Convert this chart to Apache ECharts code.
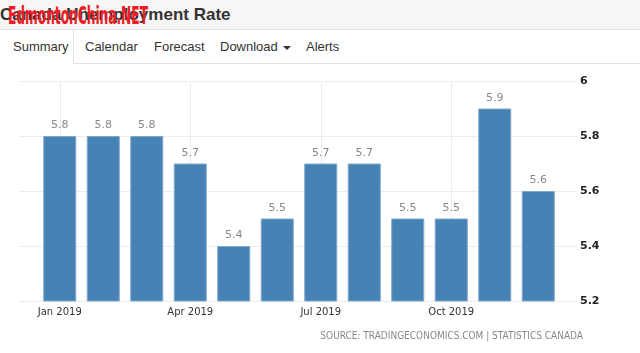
<!DOCTYPE html>
<html>
<head>
<meta charset="utf-8">
<script src="https://cdn.jsdelivr.net/npm/echarts@6/dist/echarts.min.js"></script>
<style>
  html, body { margin: 0; padding: 0; background: #fff; width: 640px; height: 353px; overflow: hidden; }
  .head { position: absolute; left: 0; top: 0; width: 640px; height: 29px; background: #f6f6f6; border-bottom: 1px solid #e2e2e2; }
  .title { position: absolute; left: 0; top: 5px; font: bold 17px "Liberation Sans", Arial, sans-serif; color: #333; white-space: nowrap; }
  .mark { position: absolute; left: 8px; top: 3px; font: bold 24px/26px "DejaVu Sans Condensed", sans-serif; color: #ee1c25; white-space: nowrap; transform: scaleX(0.565); transform-origin: 0 0; }
  .tabs { position: absolute; left: 0; top: 30px; width: 640px; height: 34px; background: #fff; }
  .tabline { position: absolute; left: 73px; top: 63px; width: 567px; height: 1px; background: #e2e2e2; }
  .active { position: absolute; left: 0; top: 30px; width: 73px; height: 34px; border-right: 1px solid #e2e2e2; background: #fff; }
  .tab { position: absolute; top: 39px; font: 13px "Liberation Sans", Arial, sans-serif; color: #333; white-space: nowrap; }
  .caret { display: inline-block; width: 0; height: 0; margin-left: 5px; vertical-align: middle; border-left: 4px solid transparent; border-right: 4px solid transparent; border-top: 4px solid #333; }
  #chart { position: absolute; left: 0; top: 64px; width: 640px; height: 289px; }
</style>
</head>
<body>
<div class="head"><div class="title">Canada Unemployment Rate</div><div class="mark">EdmontonChina.NET</div></div>
<div class="tabs"></div>
<div class="active"></div>
<div class="tabline"></div>
<div class="tab" style="left:13px">Summary</div>
<div class="tab" style="left:85px">Calendar</div>
<div class="tab" style="left:154px">Forecast</div>
<div class="tab" style="left:220px">Download<span class="caret"></span></div>
<div class="tab" style="left:306px">Alerts</div>
<div id="chart"></div>
<script>
var months = ['Jan 2019', 'Feb 2019', 'Mar 2019', 'Apr 2019', 'May 2019', 'Jun 2019',
  'Jul 2019', 'Aug 2019', 'Sep 2019', 'Oct 2019', 'Nov 2019', 'Dec 2019'];
var rates = [5.8, 5.8, 5.8, 5.7, 5.4, 5.5, 5.7, 5.7, 5.5, 5.5, 5.9, 5.6];
var yMin = 5.2, yMax = 6, yStep = 0.2;

var chart = echarts.init(document.getElementById('chart'));
chart.setOption({
  animation: false,
  textStyle: { fontFamily: 'DejaVu Sans' },
  grid: [
    // wide grid only for the horizontal lines and right-hand labels
    { left: 20, right: 63, top: 17, height: 220 },
    // bar grid
    { left: 38, right: 80, top: 17, height: 220 }
  ],
  xAxis: [
    { gridIndex: 0, type: 'category', data: months, show: false },
    {
      gridIndex: 1,
      type: 'category',
      data: months,
      axisLine: { show: false },
      axisTick: { show: false },
      axisLabel: { interval: 2, color: '#333', fontSize: 10, margin: 6, fontFamily: 'DejaVu Sans' },
      splitLine: { show: true, interval: 2, alignWithLabel: true, lineStyle: { color: '#ececec' } }
    }
  ],
  yAxis: [
    {
      gridIndex: 0,
      type: 'value',
      position: 'right',
      min: yMin, max: yMax, interval: yStep,
      axisLine: { show: false },
      axisTick: { show: false },
      axisLabel: {
        margin: 3, color: '#222', fontSize: 11, fontWeight: 'bold',
        formatter: function (v) { return +v.toFixed(1) + ''; }
      },
      splitLine: { lineStyle: { color: '#ececec' } }
    },
    {
      gridIndex: 1,
      type: 'value',
      min: yMin, max: yMax, interval: yStep,
      show: false
    }
  ],
  series: [{
    type: 'bar',
    xAxisIndex: 1,
    yAxisIndex: 1,
    data: rates,
    barWidth: 33,
    itemStyle: { color: '#4682b4', borderColor: '#7ea7cc', borderWidth: 1 },
    label: { show: true, position: 'top', distance: 5, color: '#888', fontSize: 11, fontFamily: 'DejaVu Sans' }
  }],
  graphic: [{
    type: 'text',
    right: 57,
    top: 267,
    style: {
      text: 'SOURCE: TRADINGECONOMICS.COM | STATISTICS CANADA',
      fill: '#888',
      font: '10px "DejaVu Sans Condensed"'
    }
  }]
});
</script>
</body>
</html>
